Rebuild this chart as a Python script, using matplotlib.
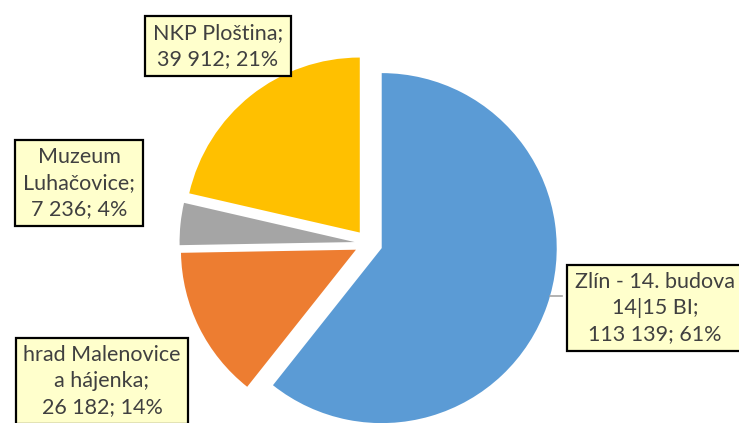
import matplotlib.pyplot as plt

# hodnoty z grafu
nazvy = ['Zlín - 14. budova\n14|15 BI', 'hrad Malenovice\na hájenka',
         'Muzeum\nLuhačovice', 'NKP Ploština']
hodnoty = [113139, 26182, 7236, 39912]
barvy = ['#5B9BD5', '#ED7D31', '#A5A5A5', '#FFC000']

# pozice popisku (pixely, y odspodu)
pozice = [(655, 115), (102, 42), (79, 240), (218, 377)]

fig = plt.figure(figsize=(7.39, 4.23), dpi=100)
ax = fig.add_axes([0, 0, 1, 1])

R = 175
# explode v matplotlibu neni nasobeny polomerem -> v pixelech
ax.pie(hodnoty, colors=barvy, startangle=90, counterclock=False,
       explode=[0.08 * R] * 4, radius=R, center=(368.5, 179.5),
       wedgeprops=dict(linewidth=0))

# vodici cara k popisku Zlin
ax.plot([550, 562], [127, 127], color='#A5A5A5', lw=1.2)

celkem = sum(hodnoty)
for nazev, h, (x, y) in zip(nazvy, hodnoty, pozice):
    txt = f"{nazev};\n{h:,}".replace(',', ' ') + f"; {round(h / celkem * 100)}%"
    ax.text(x, y, txt, ha='center', va='center', fontsize=15.5,
            family='Lato', color='#404040', linespacing=1.35,
            bbox=dict(boxstyle='square,pad=0.35', fc='#FFFFCC', ec='black', lw=1.6))

ax.set_xlim(0, 739)
ax.set_ylim(0, 423)
ax.set_aspect('auto')
ax.axis('off')

plt.savefig('out.png', dpi=100)
